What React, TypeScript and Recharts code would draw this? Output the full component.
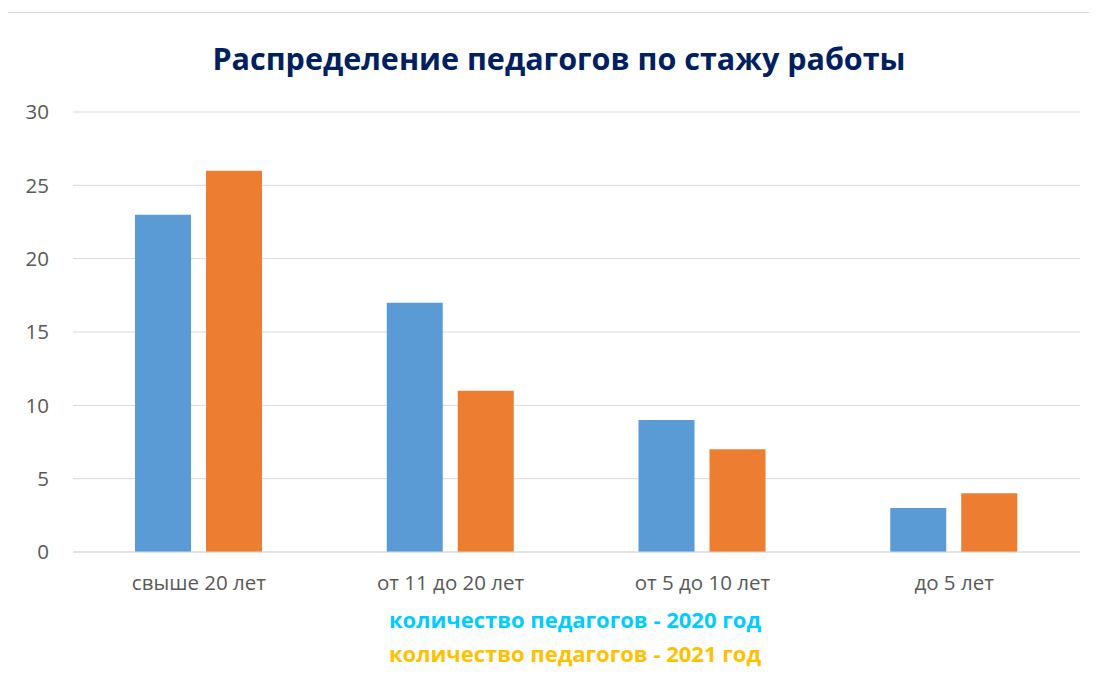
import { Bar, BarChart, CartesianGrid, XAxis, YAxis } from "recharts";

const CATEGORIES = ["свыше 20 лет", "от 11 до 20 лет", "от 5 до 10 лет", "до 5 лет"];
const COUNT_2020 = [23, 17, 9, 3];
const COUNT_2021 = [26, 11, 7, 4];
const Y_TICKS = [0, 5, 10, 15, 20, 25, 30];

const TITLE = "Распределение педагогов по стажу работы";
const LABEL_2020 = "количество педагогов - 2020 год";
const LABEL_2021 = "количество педагогов - 2021 год";

const data = CATEGORIES.map((name, i) => ({
  name,
  y2020: COUNT_2020[i],
  y2021: COUNT_2021[i],
}));

const FONT = "'Open Sans', 'Noto Sans', sans-serif";

export default function App() {
  return (
    <div
      style={{
        position: "relative",
        width: 1090,
        height: 700,
        marginLeft: -1,
        marginTop: 4,
        border: "1px solid #d9d9d9",
        borderRight: "none",
        boxSizing: "border-box",
        fontFamily: FONT,
        background: "#fff",
      }}
    >
      <div
        style={{
          position: "absolute",
          left: 0,
          width: 1102,
          top: 26,
          textAlign: "center",
          fontSize: 30.5,
          fontWeight: 700,
          color: "#002060",
          lineHeight: "38px",
        }}
      >
        {TITLE}
      </div>
      <div style={{ position: "absolute", left: 0, top: 0 }}>
        <BarChart
          width={1072}
          height={600}
          data={data}
          margin={{ top: 99, right: 0, left: 0, bottom: 31 }}
          barSize={56}
          barGap={15}
        >
          <CartesianGrid stroke="#d9d9d9" vertical={false} />
          <XAxis
            dataKey="name"
            axisLine={{ stroke: "#d9d9d9" }}
            tickLine={false}
            tickMargin={17}
            tick={{ fontSize: 20.5, fill: "#595959", fontFamily: FONT }}
            interval={0}
          />
          <YAxis
            width={65}
            domain={[0, 30]}
            ticks={Y_TICKS}
            axisLine={false}
            tickLine={false}
            tickMargin={18}
            tick={{ fontSize: 20.5, fill: "#595959", fontFamily: FONT }}
          />
          <Bar dataKey="y2020" fill="#5B9BD5" isAnimationActive={false} />
          <Bar dataKey="y2021" fill="#ED7D31" isAnimationActive={false} />
        </BarChart>
      </div>
      <div
        style={{
          position: "absolute",
          left: 0,
          width: 1134,
          top: 589,
          textAlign: "center",
          fontSize: 22,
          fontWeight: 700,
          lineHeight: "34px",
        }}
      >
        <div style={{ color: "#00CCFF" }}>{LABEL_2020}</div>
        <div style={{ color: "#FFC000" }}>{LABEL_2021}</div>
      </div>
    </div>
  );
}
